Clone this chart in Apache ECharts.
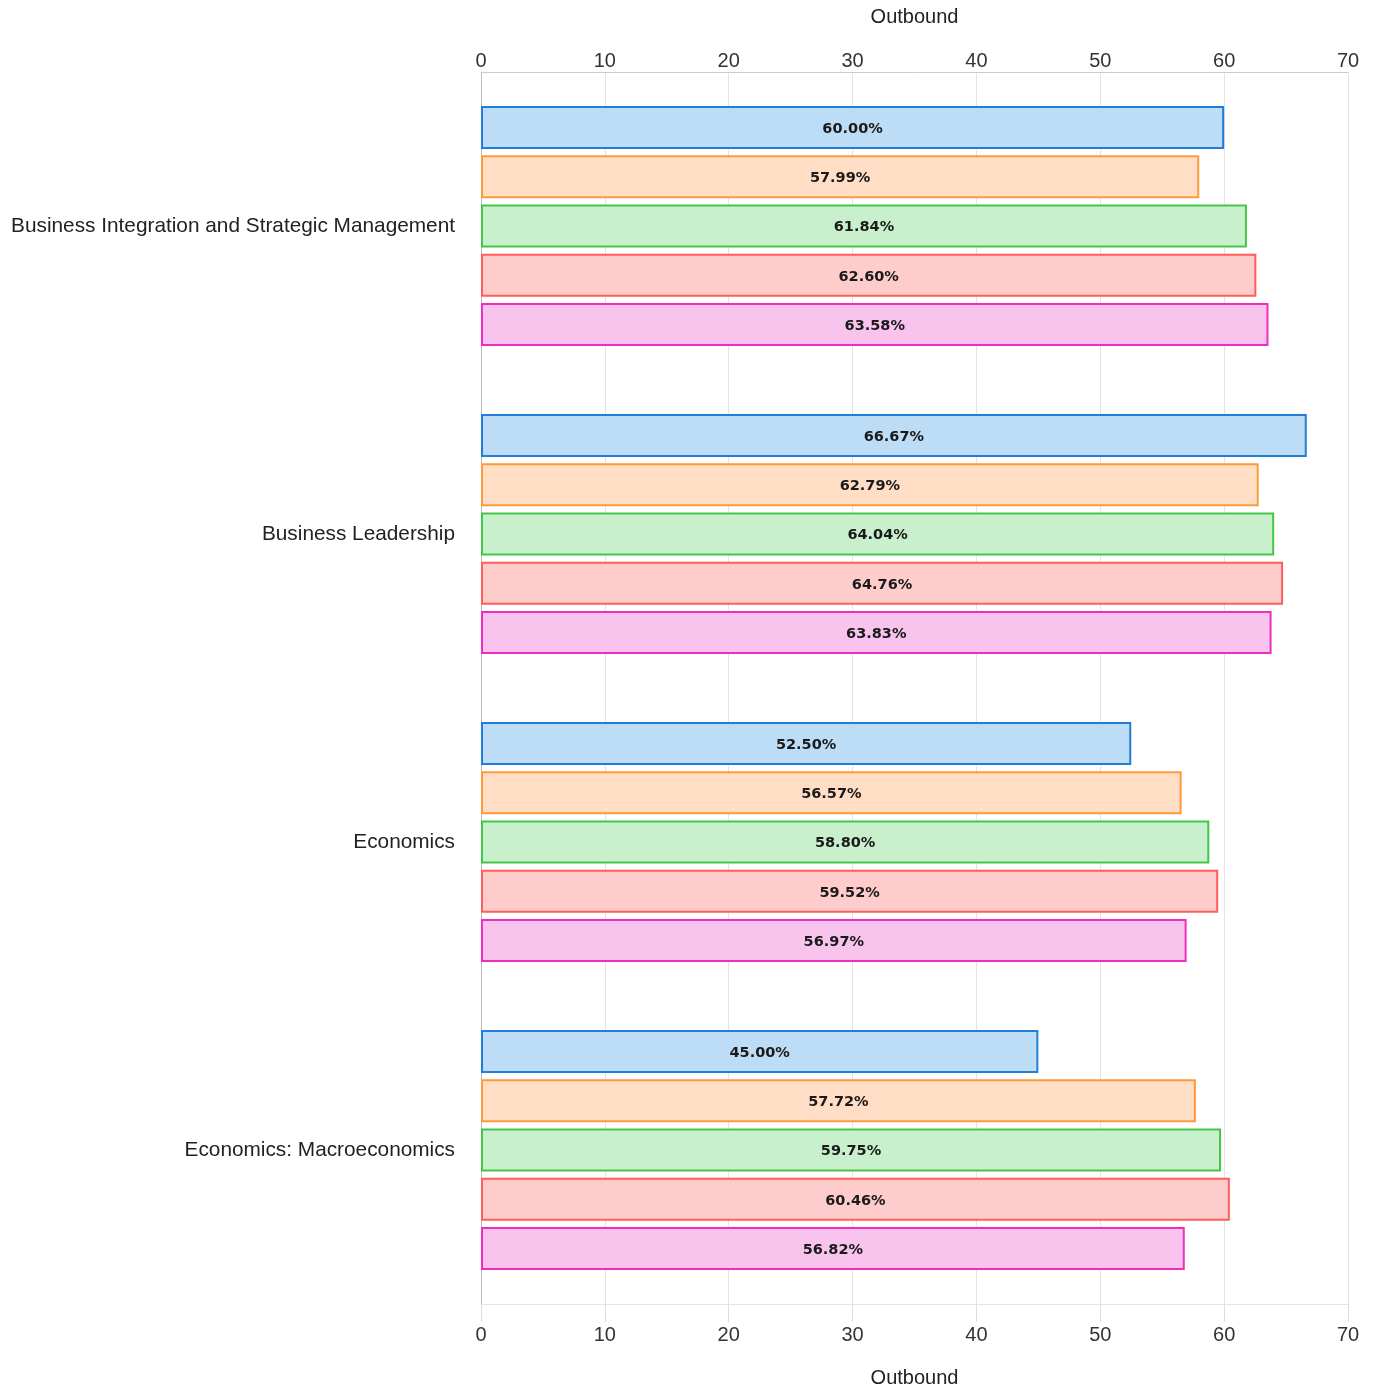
<!DOCTYPE html>
<html>
<head>
<meta charset="utf-8">
<script src="https://cdn.jsdelivr.net/npm/echarts@6/dist/echarts.min.js"></script>
<style>
html,body{margin:0;padding:0;background:#fff;}
#chart{width:1377px;height:1390px;}
</style>
</head>
<body>
<div id="chart"></div>
<script>
const categories = [
  "Business Integration and Strategic Management",
  "Business Leadership",
  "Economics",
  "Economics: Macroeconomics"
];
const seriesNames = ["Series 1", "Series 2", "Series 3", "Series 4", "Series 5"];
const series1 = [60.00, 66.67, 52.50, 45.00];
const series2 = [57.99, 62.79, 56.57, 57.72];
const series3 = [61.84, 64.04, 58.80, 59.75];
const series4 = [62.60, 64.76, 59.52, 60.46];
const series5 = [63.58, 63.83, 56.97, 56.82];
const xTicks = [0, 10, 20, 30, 40, 50, 60, 70];

const borderColors = ["#1f7fd6", "#ff9a3c", "#46c646", "#ff5c5c", "#ee2ec0"];
const fillColors = ["#bddcf5", "#ffdec5", "#c8f0cc", "#ffcccc", "#f8c3ec"];
const allData = [series1, series2, series3, series4, series5];

const FONT = "Liberation Sans, Arial, sans-serif";

const chart = echarts.init(document.getElementById('chart'));
const xCommon = {
  type: 'value',
  min: xTicks[0],
  max: xTicks[xTicks.length - 1],
  interval: 10,
  name: 'Outbound',
  nameLocation: 'middle',
  nameTextStyle: {color: '#222', fontSize: 20, fontFamily: FONT},
  axisLabel: {color: '#333', fontSize: 20, fontFamily: FONT},
  splitLine: {show: true, lineStyle: {color: '#e4e4e4', width: 1}},
  axisLine: {show: true, lineStyle: {color: '#cccccc'}}
};
const option = {
  backgroundColor: '#ffffff',
  animation: false,
  legend: {show: false},
  grid: {left: 481, right: 29, top: 72, bottom: 86, containLabel: false, outerBoundsMode: 'none'},
  xAxis: [
    Object.assign({}, xCommon, {
      position: 'top',
      nameGap: 45,
      axisTick: {show: false},
      axisLabel: Object.assign({}, xCommon.axisLabel, {margin: 1})
    }),
    Object.assign({}, xCommon, {
      position: 'bottom',
      nameGap: 64,
      axisLine: {show: true, lineStyle: {color: '#e4e4e4'}},
      axisTick: {show: true, length: 18, lineStyle: {color: '#dddddd'}},
      axisLabel: Object.assign({}, xCommon.axisLabel, {margin: 21}),
      splitLine: {show: false}
    })
  ],
  yAxis: {
    type: 'category',
    data: categories,
    inverse: true,
    axisLine: {show: true, lineStyle: {color: '#bbbbbb'}},
    axisTick: {show: false},
    axisLabel: {color: '#222', fontSize: 20.8, fontFamily: FONT, margin: 26, padding: [4, 0, 0, 0]},
    splitLine: {show: false}
  },
  series: allData.map((d, i) => ({
    name: seriesNames[i],
    type: 'bar',
    xAxisIndex: 0,
    data: d,
    barCategoryGap: '22%',
    barGap: '14.5%',
    itemStyle: {color: fillColors[i], borderColor: borderColors[i], borderWidth: 2},
    label: {
      show: true,
      position: 'inside',
      offset: [0, 1.5],
      color: '#1a1a1a',
      fontWeight: 'bold',
      fontSize: 14.5,
      fontFamily: "DejaVu Sans, sans-serif",
      formatter: p => p.value.toFixed(2) + '%'
    }
  }))
};
chart.setOption(option);
</script>
</body>
</html>
